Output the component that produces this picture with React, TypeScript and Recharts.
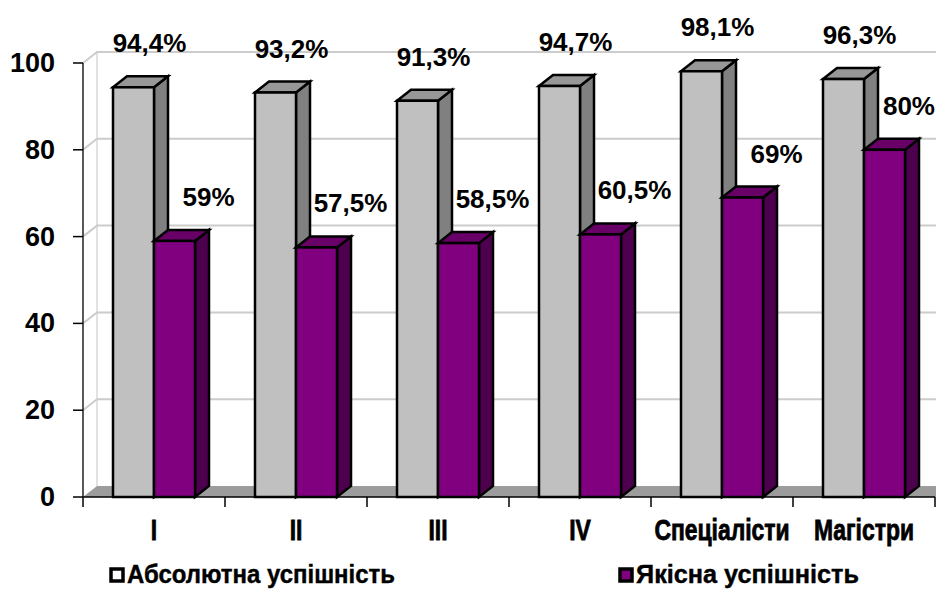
import React from 'react'
import { BarChart, Bar, XAxis, YAxis } from 'recharts'

const categories = ['I', 'II', 'III', 'IV', 'Спеціалісти', 'Магістри']
const absoluteSuccess = [94.4, 93.2, 91.3, 94.7, 98.1, 96.3]
const qualitySuccess = [59, 57.5, 58.5, 60.5, 69, 80]
const yTicks = [0, 20, 40, 60, 80, 100]
const seriesNames = ['Абсолютна успішність', 'Якісна успішність']

const rows = categories.map((cat, i) => ({
  cat,
  abs: absoluteSuccess[i],
  qual: qualitySuccess[i],
}))

// layout
const W = 936
const H = 591
const PLOT_LEFT = 83
const PLOT_TOP = 63
const PLOT_RIGHT = 935
const PLOT_BOTTOM = 497
const PLOT_H = PLOT_BOTTOM - PLOT_TOP
const DX = 14
const DY = 11
const BAND = (PLOT_RIGHT - PLOT_LEFT) / categories.length

const FONT = "'Liberation Sans', Arial, sans-serif"
const LABEL_SIZE = 26
// no narrow font installed, squeeze bold sans horizontally instead
const CAT_SCALE = 0.79

const yOf = (v: number) => PLOT_BOTTOM - (v / 100) * PLOT_H

function Backdrop() {
  return (
    <g>
      <polygon
        points={`${PLOT_LEFT},${PLOT_BOTTOM} ${PLOT_LEFT + DX},${PLOT_BOTTOM - DY} ${W},${PLOT_BOTTOM - DY} ${W},${PLOT_BOTTOM}`}
        fill="#9c9c9c"
      />
      <line
        x1={PLOT_LEFT + DX} y1={yOf(100) - DY}
        x2={PLOT_LEFT + DX} y2={PLOT_BOTTOM - DY}
        stroke="#d8d8d8" strokeWidth={1.5}
      />
      {yTicks.filter(t => t > 0).map(t => (
        <polyline
          key={t}
          points={`${PLOT_LEFT},${yOf(t)} ${PLOT_LEFT + DX},${yOf(t) - DY} ${W},${yOf(t) - DY}`}
          fill="none"
          stroke="#cccccc"
          strokeWidth={2}
        />
      ))}
    </g>
  )
}

function LegendSvg() {
  const items = [
    { name: seriesNames[0], fill: '#ffffff', x: 109, len: 268 },
    { name: seriesNames[1], fill: '#800080', x: 618, len: 223 },
  ]
  return (
    <g>
      {items.map(it => (
        <g key={it.name}>
          <rect x={it.x + 2} y={569} width={12} height={12} fill={it.fill} stroke="#000" strokeWidth={3.5} />
          <text
            x={it.x + 18}
            y={583}
            fontFamily={FONT}
            fontWeight="bold"
            fontSize={25}
            fill="#000"
            stroke="#000"
            strokeWidth={0.4}
            textLength={it.len}
            lengthAdjust="spacingAndGlyphs"
          >
            {it.name}
          </text>
        </g>
      ))}
    </g>
  )
}

function Box3D(props: any) {
  const { x, y, width, height, fill, side, top } = props
  if (width == null || height == null) return null
  const r = x + width
  const b = y + height
  return (
    <g stroke="#000" strokeWidth={2.5} strokeLinejoin="miter">
      <polygon points={`${r},${y} ${r + DX},${y - DY} ${r + DX},${b - DY} ${r},${b}`} fill={side} />
      <polygon points={`${x},${y} ${x + DX},${y - DY} ${r + DX},${y - DY} ${r},${y}`} fill={top} />
      <rect x={x} y={y} width={width} height={height} fill={fill} />
    </g>
  )
}

function fmt(v: number) {
  return String(v).replace('.', ',') + '%'
}

// rough advance widths of the label glyphs, in em
function textWidth(s: string) {
  let w = 0
  for (const ch of s) w += ch === '%' ? 0.889 : ch === ',' ? 0.278 : 0.556
  return w * LABEL_SIZE
}

function BarLabel(props: any) {
  const { x, y, width, value, shift } = props
  const text = fmt(value)
  const half = textWidth(text) / 2
  // keep the label inside the picture, as the original does with 80%
  const cx = Math.min(x + width / 2 + shift, W - half - 1)
  return (
    <text
      x={cx}
      y={y - 35}
      textAnchor="middle"
      fontFamily={FONT}
      fontWeight="bold"
      fontSize={LABEL_SIZE}
      fill="#000"
    >
      {text}
    </text>
  )
}

function CatTick(props: any) {
  const { x, payload, index } = props
  const last = index === categories.length - 1
  return (
    <g>
      <line x1={x - BAND / 2} y1={PLOT_BOTTOM} x2={x - BAND / 2} y2={PLOT_BOTTOM + 10} stroke="#000" strokeWidth={1.5} />
      {last && (
        <line x1={x + BAND / 2} y1={PLOT_BOTTOM} x2={x + BAND / 2} y2={PLOT_BOTTOM + 10} stroke="#000" strokeWidth={1.5} />
      )}
      <text
        transform={`translate(${x},540) scale(${CAT_SCALE},1)`}
        textAnchor="middle"
        fontFamily={FONT}
        fontWeight="bold"
        fontSize={29}
        fill="#000"
        stroke="#000"
        strokeWidth={0.8}
      >
        {payload.value}
      </text>
    </g>
  )
}

function ValTick(props: any) {
  const { x, y, payload } = props
  return (
    <text x={x} y={y + 9} textAnchor="end" fontFamily={FONT} fontWeight="bold" fontSize={27} fill="#000">
      {payload.value}
    </text>
  )
}

export default function App() {
  return (
    <div style={{ position: 'absolute', left: 0, top: 0, width: W, height: H, background: '#fff' }}>
      <BarChart
        width={W}
        height={H}
        data={rows}
        margin={{ top: PLOT_TOP, right: W - PLOT_RIGHT, bottom: 0, left: 0 }}
        barCategoryGap={30}
        barGap={0}
      >
        <Backdrop />
        <XAxis
          dataKey="cat"
          height={H - PLOT_BOTTOM}
          interval={0}
          tickLine={false}
          axisLine={{ stroke: '#000', strokeWidth: 1.5 }}
          tick={<CatTick />}
        />
        <YAxis
          width={PLOT_LEFT}
          domain={[0, 100]}
          ticks={yTicks}
          interval={0}
          tickSize={10}
          tickMargin={18}
          axisLine={{ stroke: '#222', strokeWidth: 1.5 }}
          tickLine={{ stroke: '#000', strokeWidth: 1.5 }}
          tick={<ValTick />}
        />
        <Bar
          dataKey="abs"
          name={seriesNames[0]}
          fill="#c0c0c0"
          isAnimationActive={false}
          shape={(p: any) => <Box3D {...p} side="#808080" top="#979797" />}
          label={(p: any) => <BarLabel {...p} shift={16} />}
        />
        <Bar
          dataKey="qual"
          name={seriesNames[1]}
          fill="#800080"
          isAnimationActive={false}
          shape={(p: any) => <Box3D {...p} side="#4d004d" top="#680068" />}
          label={(p: any) => <BarLabel {...p} shift={34} />}
        />
        <LegendSvg />
      </BarChart>
    </div>
  )
}
